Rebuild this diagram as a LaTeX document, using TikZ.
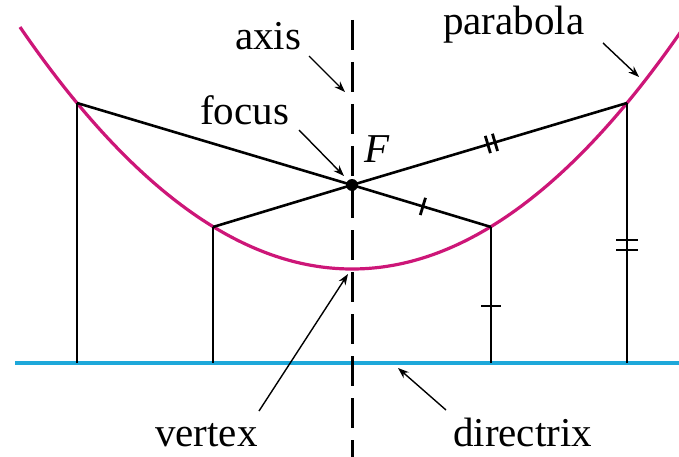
\documentclass[tikz,border=0pt]{standalone}
\usepackage{fontspec}
\setmainfont{Liberation Serif}
\usetikzlibrary{arrows.meta,calc}
\definecolor{parabcol}{RGB}{205,22,120}
\definecolor{dircol}{RGB}{30,168,218}
\tikzset{
  seg/.style={line width=2.6pt,black},
  lbl/.style={inner sep=0pt,anchor=base west,font=\fontsize{41}{48}\selectfont},
  ptr/.style={line width=1.4pt,-{Stealth[length=11pt,width=8pt]}},
  tickmark/.style={line width=2.8pt}
}
\begin{document}
\begin{tikzpicture}[x=1pt,y=-1pt]
\useasboundingbox (0,0) rectangle (679,457);
\begin{scope}
\clip (0,0) rectangle (679,457);
% parabola
\draw[line width=3.2pt,parabcol,domain=-3.32:3.30,samples=120,smooth]
  plot ({352+100*\x},{269-21.95*\x*\x});
\end{scope}
% points
\coordinate (F) at (352,185);
\coordinate (V) at (352,269);
\coordinate (P1) at (77,103);
\coordinate (P2) at (213,227);
\coordinate (P3) at (491,227);
\coordinate (P4) at (627,103);
\coordinate (D1) at (77,363);
\coordinate (D2) at (213,363);
\coordinate (D3) at (491,363);
\coordinate (D4) at (627,363);
\coordinate (DL) at (15,363);
\coordinate (DR) at (679,363);
% directrix
\draw[line width=3.2pt,dircol] (DL) -- (DR);
% segments
\draw[seg] (P1) -- (F) -- (P4);
\draw[seg] (P2) -- (F) -- (P3);
\draw[seg] (P1) -- (D1);
\draw[seg] (P2) -- (D2);
\draw[seg] (P3) -- (D3);
\draw[seg] (P4) -- (D4);
% tick marks
\draw[tickmark] ($(F)!0.51!(P3)!9pt!90:(P3)$) -- ($(F)!0.51!(P3)!9pt!-90:(P3)$);
\draw[tickmark] ($(F)!0.494!(P4)!9pt!90:(P4)$) -- ($(F)!0.494!(P4)!9pt!-90:(P4)$);
\draw[tickmark] ($(F)!0.52!(P4)!9pt!90:(P4)$) -- ($(F)!0.52!(P4)!9pt!-90:(P4)$);
\draw[tickmark] (481,306) -- (501,306);
\draw[tickmark] (616,240) -- (638,240);
\draw[tickmark] (616,250) -- (638,250);
% axis
\coordinate (AT) at (352,20);
\coordinate (AB) at (352,457);
\draw[line width=3pt,dash pattern=on 30pt off 12pt] (AT) -- (AB);
% focus dot
\fill (F) circle (6pt);
% labels
\node[lbl] (laxis) at (235,50) {axis};
\node[lbl] (lfocus) at (200,125) {focus};
\node[lbl] (lF) at (364,162) {\itshape F};
\node[lbl] (lpar) at (443,35) {parabola};
\node[lbl] (lvert) at (155,446) {vertex};
\node[lbl] (ldir) at (453,446) {directrix};
% pointer coordinates
\coordinate (a1) at (309,56);   \coordinate (a2) at (345,92);
\coordinate (f1) at (299,130);  \coordinate (f2) at (344,176);
\coordinate (p1) at (603,43);   \coordinate (p2) at (639,77);
\coordinate (v1) at (259,411);  \coordinate (v2) at (348,274);
\coordinate (d1) at (446,410);  \coordinate (d2) at (398,368);
\draw[ptr] (a1) -- (a2);
\draw[ptr] (f1) -- (f2);
\draw[ptr] (p1) -- (p2);
\draw[ptr] (v1) -- (v2);
\draw[ptr] (d1) -- (d2);
\end{tikzpicture}
\end{document}
